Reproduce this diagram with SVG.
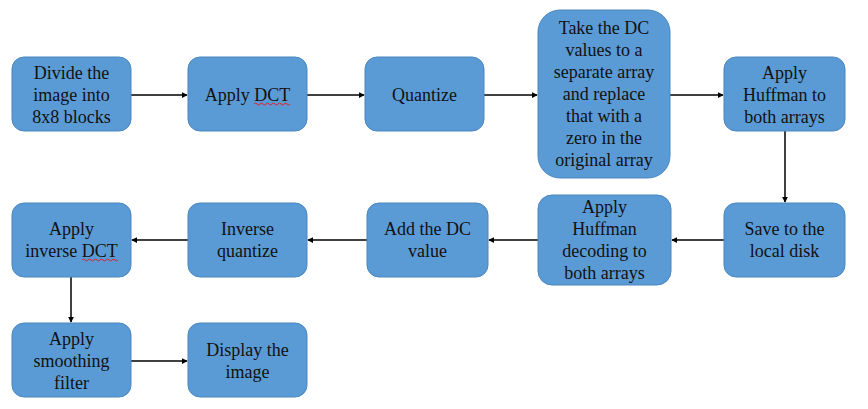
<svg xmlns="http://www.w3.org/2000/svg" width="868" height="409" viewBox="0 0 868 409">
<defs>
<style>
.n{fill:#5b9bd5;stroke:#4a86bf;stroke-width:1}
.t{font-family:"Liberation Serif","Times New Roman",serif;font-size:18px;fill:#111;text-anchor:middle;dominant-baseline:central}
.c{stroke:#000;stroke-width:1.5;fill:none;marker-end:url(#a)}
.w{stroke:#e02020;stroke-width:1;fill:none}
</style>
<marker id="a" viewBox="0 0 8 8" refX="7" refY="4" markerWidth="6" markerHeight="6" markerUnits="userSpaceOnUse" orient="auto"><path d="M0,0 L8,4 L0,8 z" fill="#000"/></marker>
</defs>
<rect width="868" height="409" fill="#fff"/>
<g id="connectors">
<line class="c" x1="131" y1="95" x2="187" y2="95"/>
<line class="c" x1="307" y1="95" x2="364" y2="95"/>
<line class="c" x1="484" y1="95" x2="537" y2="95"/>
<line class="c" x1="670" y1="95" x2="723" y2="95"/>
<line class="c" x1="785" y1="131" x2="785" y2="202"/>
<line class="c" x1="724" y1="240" x2="672" y2="240"/>
<line class="c" x1="538" y1="240" x2="489" y2="240"/>
<line class="c" x1="367" y1="240" x2="308" y2="240"/>
<line class="c" x1="188" y1="240" x2="132" y2="240"/>
<line class="c" x1="71" y1="277" x2="71" y2="322"/>
<line class="c" x1="131" y1="361" x2="187" y2="361"/>
</g>
<g id="n1"><rect class="n" x="12" y="57" width="119" height="74" rx="12"/><text class="t" x="71.5" y="73">Divide the</text><text class="t" x="71.5" y="95">image into</text><text class="t" x="71.5" y="117">8x8 blocks</text></g>
<g id="n2"><rect class="n" x="188" y="57" width="119" height="74" rx="12"/><text class="t" x="247.5" y="95">Apply DCT</text><path class="w" d="M254,104 q1.5,-2 3,0 t3,0 t3,0 t3,0 t3,0 t3,0 t3,0 t3,0 t3,0 t3,0 t3,0 t3,0"/></g>
<g id="n3"><rect class="n" x="365" y="57" width="119" height="74" rx="12"/><text class="t" x="424.5" y="95">Quantize</text></g>
<g id="n4"><rect class="n" x="538" y="10" width="132" height="168" rx="22"/><text class="t" x="604" y="28">Take the DC</text><text class="t" x="604" y="50">values to a</text><text class="t" x="604" y="72">separate array</text><text class="t" x="604" y="94">and replace</text><text class="t" x="604" y="116">that with a</text><text class="t" x="604" y="138">zero in the</text><text class="t" x="604" y="160">original array</text></g>
<g id="n5"><rect class="n" x="724" y="57" width="121" height="74" rx="12"/><text class="t" x="784.5" y="73">Apply</text><text class="t" x="784.5" y="95">Huffman to</text><text class="t" x="784.5" y="117">both arrays</text></g>
<g id="n6"><rect class="n" x="724" y="203" width="121" height="74" rx="12"/><text class="t" x="784.5" y="229">Save to the</text><text class="t" x="784.5" y="251">local disk</text></g>
<g id="n7"><rect class="n" x="538" y="195" width="133" height="90" rx="14"/><text class="t" x="604.5" y="207">Apply</text><text class="t" x="604.5" y="229">Huffman</text><text class="t" x="604.5" y="251">decoding to</text><text class="t" x="604.5" y="273">both arrays</text></g>
<g id="n8"><rect class="n" x="367" y="203" width="121" height="74" rx="12"/><text class="t" x="427.5" y="229">Add the DC</text><text class="t" x="427.5" y="251">value</text></g>
<g id="n9"><rect class="n" x="188" y="203" width="119" height="74" rx="12"/><text class="t" x="247.5" y="229">Inverse</text><text class="t" x="247.5" y="251">quantize</text></g>
<g id="n10"><rect class="n" x="12" y="203" width="119" height="74" rx="12"/><text class="t" x="71.5" y="229">Apply</text><text class="t" x="71.5" y="251">inverse DCT</text><path class="w" d="M82,260 q1.5,-2 3,0 t3,0 t3,0 t3,0 t3,0 t3,0 t3,0 t3,0 t3,0 t3,0 t3,0 t3,0"/></g>
<g id="n11"><rect class="n" x="12" y="323" width="119" height="74" rx="12"/><text class="t" x="71.5" y="339">Apply</text><text class="t" x="71.5" y="361">smoothing</text><text class="t" x="71.5" y="383">filter</text></g>
<g id="n12"><rect class="n" x="188" y="323" width="119" height="74" rx="12"/><text class="t" x="247.5" y="350">Display the</text><text class="t" x="247.5" y="372">image</text></g>
</svg>
